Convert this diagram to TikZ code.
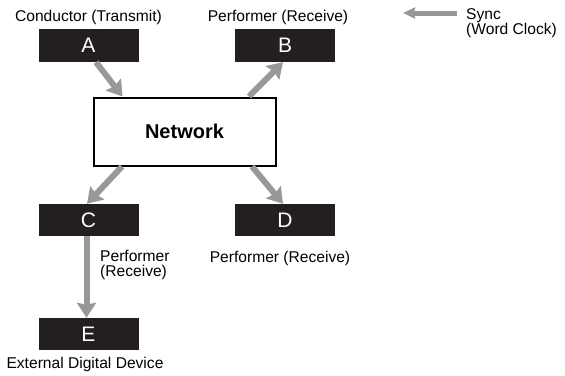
\documentclass[tikz,border=0pt]{standalone}
\usepackage{fontspec}
\setmainfont{Liberation Sans}
\usetikzlibrary{arrows.meta,calc}
\definecolor{boxblack}{RGB}{35,31,32}
\definecolor{arrowgray}{RGB}{152,152,152}
\begin{document}
\begin{tikzpicture}[x=1pt,y=-1pt,
  dev/.style={fill=boxblack, text=white, minimum width=100pt, minimum height=33pt, inner sep=0pt, font=\fontsize{21}{21}\selectfont},
  lbl/.style={inner sep=0pt, font=\fontsize{15.6}{15}\selectfont, align=left},
  flow/.style={draw=arrowgray, line width=6pt, -{Stealth[length=15pt,width=19pt,inset=2pt]}},
  syncflow/.style={draw=arrowgray, line width=5pt, -{Stealth[length=12pt,width=11pt,inset=1pt]}},
  netbox/.style={draw=black, fill=white, line width=2pt, minimum width=182pt, minimum height=68pt, inner sep=0pt, font=\bfseries\fontsize{20}{20}\selectfont}
  ]
\useasboundingbox (0,0) rectangle (565,375);
% devices
\node[dev] (A) at (88.5,45.5) {A};
\node[dev] (B) at (285,45.5) {B};
\node[dev, minimum height=32pt] (C) at (88.5,220) {C};
\node[dev, minimum height=32pt] (D) at (285,220) {D};
\node[dev, minimum height=32pt] (E) at (88.5,334) {E};
\node[netbox] (net) at (184.5,131.5) {Network};
% connectors
\draw[flow] ([xshift=7.5pt]A.south) -- ([xshift=-62pt]net.north);
\draw[flow] ([xshift=64.5pt]net.north) -- ([xshift=-2pt]B.south);
\draw[flow] ([xshift=-62.5pt]net.south) -- ([xshift=-1.5pt]C.north);
\draw[flow] ([xshift=67.5pt]net.south) -- ([xshift=-2pt]D.north);
\draw[flow] ([xshift=-2pt]C.south) -- ([xshift=-2pt]E.north);
% legend
\node[lbl, anchor=north west] (syncl) at (466,8.5) {Sync\\(Word Clock)};
\coordinate (s1) at (457,13);
\coordinate (s2) at (403,13);
\draw[syncflow] (s1) -- (s2);
% labels
\node[lbl, anchor=base] (condl) at (88.5,21.5) {Conductor (Transmit)};
\node[lbl, anchor=base] (perfb) at (278,21.5) {Performer (Receive)};
\node[lbl, anchor=north west] (perfc) at (100,250.5) {Performer\\(Receive)};
\node[lbl, anchor=base] (perfd) at (280,262) {Performer (Receive)};
\node[lbl, anchor=base] (extl) at (85,368) {External Digital Device};
\end{tikzpicture}
\end{document}
